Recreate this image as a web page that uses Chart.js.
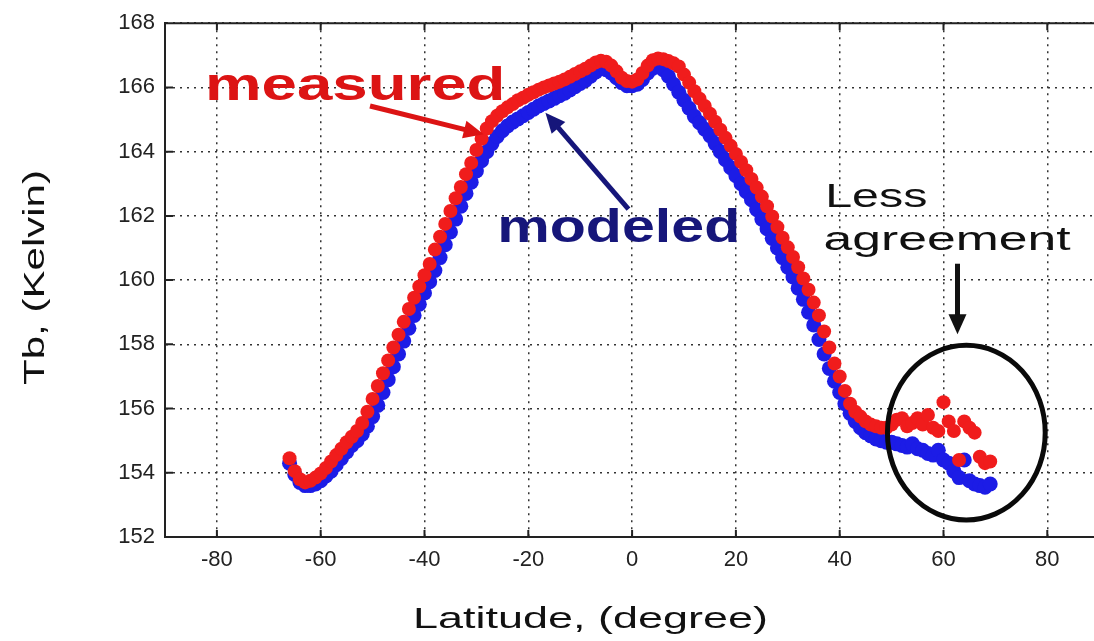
<!DOCTYPE html>
<html>
<head>
<meta charset="utf-8">
<script src="https://cdn.jsdelivr.net/npm/chart.js@4"></script>
<style>
  html, body { margin: 0; padding: 0; background: #fff; }
  canvas { display: block; }
</style>
</head>
<body>
<canvas id="tbChart" width="1094" height="641"></canvas>
<script>
// latitude of each sample (degree)
const latitude = [
  -66,-65,-64,-63,-62,-61,-60,-59,-58,-57,
  -56,-55,-54,-53,-52,-51,-50,-49,-48,-47,
  -46,-45,-44,-43,-42,-41,-40,-39,-38,-37,
  -36,-35,-34,-33,-32,-31,-30,-29,-28,-27,
  -26,-25,-24,-23,-22,-21,-20,-19,-18,-17,
  -16,-15,-14,-13,-12,-11,-10,-9,-8,-7,
  -6,-5,-4,-3,-2,-1,0,1,2,3,
  4,5,6,7,8,9,10,11,12,13,
  14,15,16,17,18,19,20,21,22,23,
  24,25,26,27,28,29,30,31,32,33,
  34,35,36,37,38,39,40,41,42,43,
  44,45,46,47,48,49,50,51,52,53,
  54,55,56,57,58,59,60,61,62,63,
  64,65,66,67,68,69
];
// measured Tb (Kelvin)
const measured = [
  154.45,154.05,153.8,153.7,153.75,153.85,153.98,154.15,154.35,154.55,
  154.75,154.95,155.12,155.3,155.55,155.9,156.3,156.7,157.1,157.5,
  157.9,158.3,158.7,159.1,159.45,159.8,160.15,160.5,160.95,161.35,
  161.75,162.15,162.55,162.9,163.3,163.65,164.05,164.4,164.72,164.95,
  165.12,165.26,165.38,165.48,165.6,165.68,165.77,165.85,165.93,166.0,
  166.06,166.12,166.18,166.25,166.33,166.42,166.5,166.58,166.68,166.78,
  166.83,166.8,166.68,166.5,166.3,166.2,166.18,166.25,166.45,166.68,
  166.85,166.9,166.88,166.82,166.75,166.65,166.4,166.15,165.88,165.65,
  165.42,165.18,164.93,164.68,164.43,164.18,163.93,163.68,163.42,163.15,
  162.88,162.6,162.3,161.98,161.65,161.32,161.02,160.72,160.4,160.05,
  159.7,159.3,158.9,158.4,157.9,157.4,157.0,156.55,156.15,155.9,
  155.75,155.6,155.5,155.45,155.4,155.4,155.5,155.65,155.7,155.45,
  155.55,155.7,155.5,155.8,155.4,155.3,156.2,155.6,155.3,154.4,
  155.6,155.4,155.25,154.5,154.3,154.35
];
// modeled Tb (Kelvin)
const modeled = [
  154.3,153.95,153.7,153.6,153.6,153.65,153.75,153.9,154.05,154.25,
  154.45,154.65,154.85,155.0,155.2,155.45,155.75,156.1,156.5,156.9,
  157.3,157.7,158.1,158.5,158.9,159.25,159.6,159.95,160.3,160.7,
  161.1,161.5,161.9,162.3,162.7,163.05,163.4,163.72,164.0,164.25,
  164.47,164.65,164.8,164.92,165.02,165.12,165.22,165.32,165.42,165.5,
  165.58,165.66,165.74,165.82,165.92,166.02,166.12,166.22,166.35,166.48,
  166.6,166.55,166.45,166.3,166.15,166.05,166.05,166.1,166.25,166.45,
  166.6,166.65,166.55,166.35,166.1,165.85,165.6,165.35,165.1,164.9,
  164.7,164.5,164.25,164.0,163.75,163.5,163.25,163.0,162.75,162.5,
  162.2,161.9,161.6,161.3,161.0,160.7,160.4,160.1,159.75,159.4,
  159.0,158.6,158.15,157.7,157.25,156.85,156.5,156.15,155.85,155.6,
  155.4,155.25,155.15,155.05,155.0,154.95,154.95,154.9,154.85,154.8,
  154.9,154.75,154.7,154.6,154.55,154.7,154.4,154.3,154.05,153.85,
  154.4,153.75,153.65,153.6,153.55,153.65
];
const xTicks = [-80, -60, -40, -20, 0, 20, 40, 60, 80];
const yTicks = [152, 154, 156, 158, 160, 162, 164, 166, 168];

const RED = '#f01c1c';
const BLUE = '#1c1ce6';
const TEXT_RED = '#dc1414';
const NAVY = '#16167a';
const FONT = "'Liberation Sans', Arial, sans-serif";

// annotation text, anchored in data units (lat, Tb); x1 is where the text ends
const labels = [
  {text: 'measured', x0: -82.3, x1: -24.4, y: 165.62, font: 'bold 47px ' + FONT, color: TEXT_RED},
  {text: 'modeled', x0: -26.0, x1: 20.85, y: 161.19, font: 'bold 47px ' + FONT, color: NAVY},
  {text: 'Less', x0: 37.2, x1: 56.9, y: 162.27, font: '33px ' + FONT, color: '#111'},
  {text: 'agreement', x0: 36.9, x1: 84.5, y: 160.94, font: '33px ' + FONT, color: '#111'}
];
const arrows = [
  {from: [-50.5, 165.42], to: [-28.6, 164.54], color: TEXT_RED},
  {from: [-0.7, 162.21], to: [-16.7, 165.21], color: NAVY},
  {from: [62.7, 160.51], to: [62.7, 158.31], color: '#111'}
];
const ring = {lat: 64.4, tb: 155.25, rLat: 15.2, rTb: 2.72};

function stretchText(ctx, text, x, y, width, font, color, angle) {
  ctx.save();
  ctx.font = font;
  ctx.fillStyle = color;
  ctx.textAlign = 'left';
  ctx.textBaseline = 'alphabetic';
  const w = ctx.measureText(text).width;
  ctx.translate(x, y);
  if (angle) ctx.rotate(angle);
  ctx.scale(width / w, 1);
  ctx.fillText(text, 0, 0);
  ctx.restore();
}

function arrow(ctx, x0, y0, x1, y1, color) {
  const a = Math.atan2(y1 - y0, x1 - x0);
  const len = 20, half = 9;
  ctx.save();
  ctx.strokeStyle = color;
  ctx.fillStyle = color;
  ctx.lineWidth = 5;
  ctx.beginPath();
  ctx.moveTo(x0, y0);
  ctx.lineTo(x1 - Math.cos(a) * len * 0.8, y1 - Math.sin(a) * len * 0.8);
  ctx.stroke();
  ctx.beginPath();
  ctx.moveTo(x1, y1);
  ctx.lineTo(x1 - Math.cos(a) * len + Math.sin(a) * half, y1 - Math.sin(a) * len - Math.cos(a) * half);
  ctx.lineTo(x1 - Math.cos(a) * len - Math.sin(a) * half, y1 - Math.sin(a) * len + Math.cos(a) * half);
  ctx.closePath();
  ctx.fill();
  ctx.restore();
}

const annotate = {
  id: 'annotate',
  afterDraw(chart) {
    const ctx = chart.ctx;
    const xs = chart.scales.x, ys = chart.scales.y;
    const area = chart.chartArea;

    // box top edge and inward tick marks
    ctx.save();
    ctx.strokeStyle = '#222';
    ctx.lineWidth = 2;
    ctx.beginPath();
    ctx.moveTo(area.left, area.top);
    ctx.lineTo(area.right, area.top);
    xTicks.forEach(v => {
      const px = xs.getPixelForValue(v);
      ctx.moveTo(px, area.bottom); ctx.lineTo(px, area.bottom - 7);
      ctx.moveTo(px, area.top); ctx.lineTo(px, area.top + 7);
    });
    yTicks.forEach(v => {
      const py = ys.getPixelForValue(v);
      ctx.moveTo(area.left, py); ctx.lineTo(area.left + 8, py);
    });
    ctx.stroke();
    ctx.restore();

    // axis titles
    stretchText(ctx, 'Latitude, (degree)', 413, 628, 355, '30px ' + FONT, '#111');
    stretchText(ctx, 'Tb, (Kelvin)', 44, 385, 215, '30px ' + FONT, '#111', -Math.PI / 2);

    // ellipse round the high latitude points
    ctx.save();
    ctx.strokeStyle = '#0a0a0a';
    ctx.lineWidth = 5;
    ctx.beginPath();
    const cx = xs.getPixelForValue(ring.lat), cy = ys.getPixelForValue(ring.tb);
    const rx = xs.getPixelForValue(ring.lat + ring.rLat) - cx;
    const ry = cy - ys.getPixelForValue(ring.tb + ring.rTb);
    ctx.ellipse(cx, cy, rx, ry, 0, 0, Math.PI * 2);
    ctx.stroke();
    ctx.restore();

    arrows.forEach(a => arrow(ctx,
      xs.getPixelForValue(a.from[0]), ys.getPixelForValue(a.from[1]),
      xs.getPixelForValue(a.to[0]), ys.getPixelForValue(a.to[1]), a.color));

    labels.forEach(l => {
      const x0 = xs.getPixelForValue(l.x0), x1 = xs.getPixelForValue(l.x1);
      stretchText(ctx, l.text, x0, ys.getPixelForValue(l.y), x1 - x0, l.font, l.color);
    });
  }
};

function points(values) {
  return values.map((v, i) => ({x: latitude[i], y: v}));
}

const tickFont = {family: FONT, size: 22};

new Chart(document.getElementById('tbChart').getContext('2d'), {
  type: 'scatter',
  data: {
    datasets: [
      {label: 'measured', data: points(measured), backgroundColor: RED, borderColor: RED, borderWidth: 0, pointRadius: 7},
      {label: 'modeled', data: points(modeled), backgroundColor: BLUE, borderColor: BLUE, borderWidth: 0, pointRadius: 7.5}
    ]
  },
  options: {
    responsive: false,
    animation: false,
    layout: {autoPadding: false, padding: {top: 20, left: 0, right: 0, bottom: 0}},
    plugins: {legend: {display: false}, tooltip: {enabled: false}},
    scales: {
      x: {
        type: 'linear', min: -90, max: 89,
        afterBuildTicks: s => { s.ticks = xTicks.map(v => ({value: v})); },
        afterFit: s => { s.height = 104; s.paddingLeft = 0; s.paddingRight = 0; },
        grid: {color: '#333', lineWidth: 1.5, drawTicks: false},
        border: {display: true, color: '#222', width: 2, dash: [2, 5]},
        ticks: {padding: 10, font: tickFont, color: '#222', maxRotation: 0, autoSkip: false}
      },
      y: {
        min: 152, max: 168,
        afterBuildTicks: s => { s.ticks = yTicks.map(v => ({value: v})); },
        afterFit: s => { s.width = 165; },
        grid: {color: '#333', lineWidth: 1.5, drawTicks: false},
        border: {display: true, color: '#222', width: 2, dash: [2, 5]},
        ticks: {padding: 10, font: tickFont, color: '#222', autoSkip: false}
      }
    }
  },
  plugins: [annotate]
});
</script>
</body>
</html>
